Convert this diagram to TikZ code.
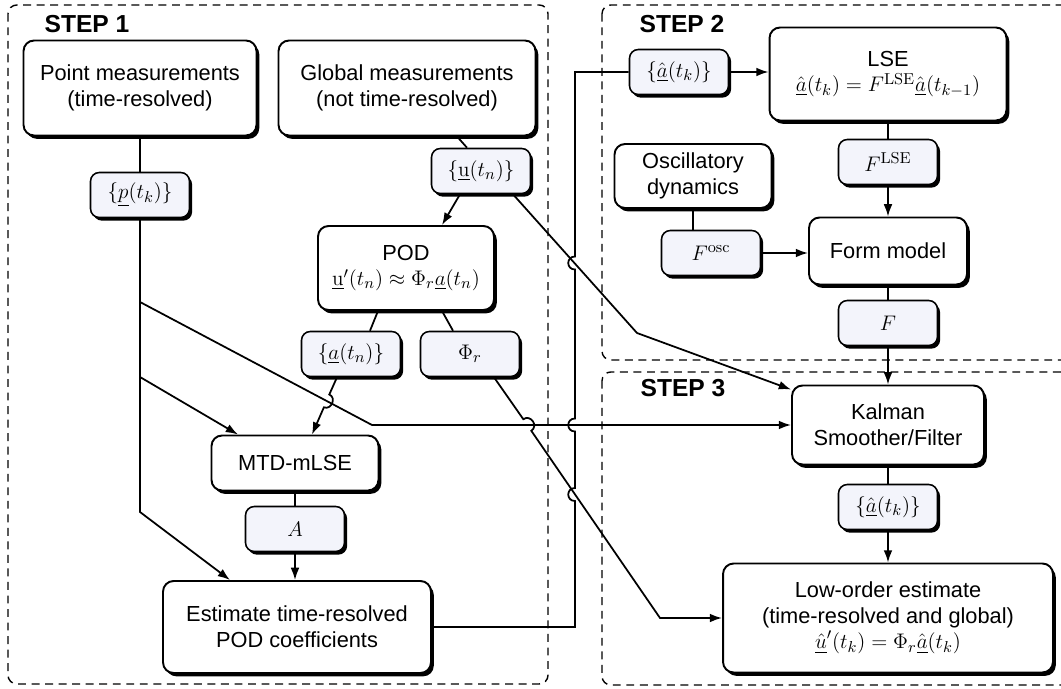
\documentclass[tikz,border=0pt]{standalone}
\usepackage{amsmath}
\usepackage{amssymb}
\usepackage[no-math]{fontspec}
\setmainfont{Liberation Sans}
\usepackage{tikz}
\usetikzlibrary{shapes,arrows,arrows.meta}
\usetikzlibrary{positioning}
\usetikzlibrary{shadows}
\usepackage{xcolor}
\definecolor{varfill}{RGB}{243,244,251}

\begin{document}
\begin{tikzpicture}[x=0.02cm,y=-0.02cm,>={Latex[length=7pt,width=5pt]},
  every node/.style={align=center,font=\fontsize{12.4}{14.6}\selectfont},
  block/.style={draw,rounded corners=6pt,line width=1.1pt,fill=white,inner sep=2pt,
    drop shadow={shadow xshift=1.6pt,shadow yshift=-1.9pt,opacity=1,fill=black}},
  var/.style={draw,rounded corners=5pt,line width=0.9pt,fill=varfill,inner sep=1pt,
    minimum width=1.98cm,minimum height=0.9cm,
    drop shadow={shadow xshift=1.5pt,shadow yshift=-1.8pt,opacity=1,fill=black}},
  region/.style={dash pattern=on 4.5pt off 3.2pt,line width=0.8pt,rounded corners=5pt},
  steplabel/.style={font=\fontsize{14}{16}\selectfont\bfseries},
  link/.style={line width=1pt}]

  \clip (0,0) rectangle (1061,689);

  % regions
  \draw[region] (8,5) rectangle (548,684);
  \draw[region] (602,5) rectangle (1090,360);
  \draw[region] (602,372) rectangle (1090,685);
  \node[steplabel] (s1) at (87,24) {STEP 1};
  \node[steplabel] (s2) at (682,24) {STEP 2};
  \node[steplabel] (s3) at (683,388) {STEP 3};

  % step 1
  \node[block,minimum width=4.66cm,minimum height=1.9cm] (pt) at (140,88) {Point measurements\\(time-resolved)};
  \node[block,minimum width=5.14cm,minimum height=1.9cm] (glob) at (407,88) {Global measurements\\(not time-resolved)};
  \node[var] (pk) at (140,195) {$\{\underline{p}(t_k)\}$};
  \node[var] (un) at (481,171) {$\{\underline{\mathrm{u}}(t_n)\}$};
  \node[block,minimum width=3.52cm,minimum height=1.68cm] (pod) at (406,268) {POD\\$\underline{\mathrm{u}}'(t_n)\approx\Phi_r\underline{a}(t_n)$};
  \node[var] (an) at (351,354) {$\{\underline{a}(t_n)\}$};
  \node[var] (phi) at (470,354) {$\Phi_r$};
  \node[block,minimum width=3.34cm,minimum height=1.1cm] (mtd) at (295,463) {MTD-mLSE};
  \node[var] (amat) at (295,529) {$A$};
  \node[block,minimum width=5.36cm,minimum height=1.84cm] (est) at (297,627) {Estimate time-resolved\\POD coefficients};

  % step 2
  \node[var] (ahat1) at (679,72) {$\{\underline{\hat{a}}(t_k)\}$};
  \node[block,minimum width=4.74cm,minimum height=1.86cm] (lse) at (888,74) {LSE\\$\underline{\hat{a}}(t_k)=F^{\mathrm{LSE}}\underline{\hat{a}}(t_{k-1})$};
  \node[block,minimum width=3.14cm,minimum height=1.28cm] (osc) at (693,176) {Oscillatory\\dynamics};
  \node[var] (fosc) at (711,253) {$F^{\mathrm{osc}}$};
  \node[var] (flse) at (888,162) {$F^{\mathrm{LSE}}$};
  \node[block,minimum width=3.16cm,minimum height=1.34cm] (form) at (888,251) {Form model};
  \node[var] (fmat) at (888,323) {$F$};

  % step 3
  \node[block,minimum width=3.84cm,minimum height=1.58cm] (kal) at (888,425) {Kalman\\Smoother/Filter};
  \node[var] (ahat2) at (888,507) {$\{\underline{\hat{a}}(t_k)\}$};
  \node[block,minimum width=6.6cm,minimum height=2.18cm] (low) at (888,618) {Low-order estimate\\(time-resolved and global)\\$\underline{\hat{u}}'(t_k)=\Phi_r\underline{\hat{a}}(t_k)$};

  % point measurements
  \coordinate (tap1) at (140,302);
  \coordinate (tap2) at (140,377);
  \coordinate (pbend) at (140,512);
  \coordinate (kbend) at (372,425);
  \draw[link] (pt) -- (pk);
  \draw[link,->] (pk) -- (pbend) -- ([xshift=-1.34cm]est.north);
  \draw[link,->] (tap1) -- (kbend) -- (kal.west);
  \draw[link,->] (tap2) -- ([xshift=-1.14cm]mtd.north);

  % global measurements
  \coordinate (ubend) at (637,333);
  \draw[link] ([xshift=1cm]glob.south) -- ([xshift=-0.28cm]un.north);
  \draw[link,->] ([xshift=-0.42cm]un.south) -- ([xshift=0.72cm]pod.north);
  \draw[link,->] ([xshift=0.64cm]un.south) -- (ubend) -- ([yshift=-0.1cm]kal.north west);
  \draw[link] ([xshift=-0.56cm]pod.south) -- ([xshift=0.38cm]an.north);
  \draw[link] ([xshift=0.72cm]pod.south) -- ([xshift=-0.34cm]phi.north);
  \draw[link,->] ([xshift=-0.28cm]an.south) -- (329.3,394.5)
    .. controls (336.7,397.6) and (331.3,410.4) .. (323.9,407.3) -- ([xshift=0.34cm]mtd.north);
  \draw[link] (mtd) -- (amat);
  \draw[link,->] (amat.south) -- (est.north -| amat.south);

  % phi_r to estimate
  \coordinate (phibend) at (660,618);
  \draw[link,->] ([xshift=0.48cm]phi.south) -- (523.3,419.2)
    .. controls (530.7,414.1) and (538.7,425.7) .. (531.3,430.8) -- (phibend) -- (low.west);

  % coefficients to step 2
  \draw[link] (est.east) -- (575,627) -- (575,501)
    .. controls (566,501) and (566,488) .. (575,488) -- (575,431.5)
    .. controls (566,431.5) and (566,418.5) .. (575,418.5) -- (575,269.5)
    .. controls (566,269.5) and (566,256.5) .. (575,256.5) -- (575,72) -- (ahat1.west);

  % model
  \draw[link,->] (ahat1) -- (ahat1 -| lse.west);
  \draw[link] (lse) -- (flse);
  \draw[link,->] (flse) -- (form);
  \draw[link] (osc.south) -- (osc.south |- fosc.north);
  \draw[link,->] (fosc) -- (fosc -| form.west);
  \draw[link] (form) -- (fmat);
  \draw[link,->] (fmat) -- (kal);
  \draw[link] (kal) -- (ahat2);
  \draw[link,->] (ahat2) -- (low);

\end{tikzpicture}
\end{document}
